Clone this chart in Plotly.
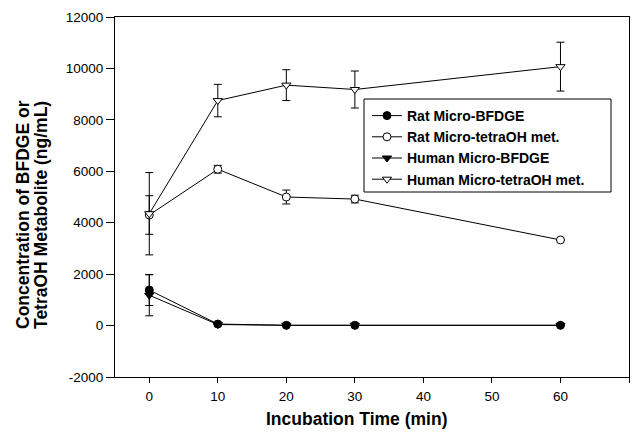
import plotly.graph_objects as go

time = [0, 10, 20, 30, 60]

rat_bfdge = [1380, 60, 10, 10, 10]
rat_bfdge_err = [600, 0, 0, 0, 0]
rat_tetra = [4300, 6080, 5000, 4920, 3330]
rat_tetra_err = [750, 150, 270, 150, 0]
human_bfdge = [1180, 40, 10, 10, 10]
human_bfdge_err = [800, 0, 0, 0, 0]
human_tetra = [4350, 8750, 9350, 9180, 10070]
human_tetra_err = [1600, 630, 600, 720, 950]

names = ["Rat Micro-BFDGE", "Rat Micro-tetraOH met.", "Human Micro-BFDGE", "Human Micro-tetraOH met."]
series = [rat_bfdge, rat_tetra, human_bfdge, human_tetra]
errs = [rat_bfdge_err, rat_tetra_err, human_bfdge_err, human_tetra_err]
symbols = ["circle", "circle", "triangle-down", "triangle-down"]
fills = ["black", "white", "black", "white"]

x_ticks = [0, 10, 20, 30, 40, 50, 60, 70]
y_ticks = [-2000, 0, 2000, 4000, 6000, 8000, 10000, 12000]
y_ticktext = ["-2000", "0", "2000", "4000", "6000", "8000", "10000", "12000"]

FONT = "Liberation Sans, Arial, sans-serif"

fig = go.Figure()
for n, s, e, sym, fc in zip(names, series, errs, symbols, fills):
    fig.add_trace(go.Scatter(
        x=time, y=s, name=n, mode="lines+markers",
        line=dict(color="black", width=1),
        marker=dict(symbol=sym, size=8, color=fc, line=dict(color="black", width=1)),
        error_y=dict(type="data", array=e, color="black", thickness=1, width=4, visible=True),
    ))

L, R, T, B = 115, 7, 17, 60
W, H = 636, 437
pw, ph = W - L - R, H - T - B

def px_x(p):
    return (p - L) / pw

def px_y(p):
    return (H - B - p) / ph

fig.update_layout(
    width=W, height=H,
    margin=dict(l=L, r=R, t=T, b=B),
    paper_bgcolor="white", plot_bgcolor="white",
    font=dict(family=FONT, color="black", size=13.5),
    showlegend=True,
    legend=dict(x=px_x(367), y=px_y(100), xanchor="left", yanchor="top",
                borderwidth=0, bgcolor="rgba(0,0,0,0)",
                font=dict(size=14, family=FONT, weight="bold"),
                tracegroupgap=0, itemwidth=30),
    shapes=[dict(type="rect", xref="paper", yref="paper",
                 x0=px_x(364), x1=px_x(611), y0=px_y(192), y1=px_y(99),
                 line=dict(color="black", width=1), fillcolor="rgba(0,0,0,0)", layer="above")],
    annotations=[
        dict(text="<b>Concentration of BFDGE or</b>", xref="paper", yref="paper",
             x=px_x(23), y=px_y(215), textangle=-90, showarrow=False,
             xanchor="center", yanchor="middle", font=dict(size=17.5, family=FONT)),
        dict(text="<b>TetraOH Metabolite (ng/mL)</b>", xref="paper", yref="paper",
             x=px_x(41), y=px_y(215), textangle=-90, showarrow=False,
             xanchor="center", yanchor="middle", font=dict(size=17.5, family=FONT)),
        dict(text="<b>Incubation Time (min)</b>", xref="paper", yref="paper",
             x=px_x(357), y=px_y(419), showarrow=False,
             xanchor="center", yanchor="middle", font=dict(size=17.5, family=FONT)),
    ],
)
fig.update_xaxes(range=[-5, 70], tickvals=x_ticks,
                 showline=True, mirror=True, linecolor="black", linewidth=1,
                 showgrid=False, zeroline=False, ticklabelstandoff=2,
                 ticks="outside", ticklen=5, tickcolor="black")
fig.update_yaxes(range=[-2000, 12000], tickvals=y_ticks, ticktext=y_ticktext,
                 showline=True, mirror=True, linecolor="black", linewidth=1,
                 showgrid=False, zeroline=False,
                 ticks="outside", ticklen=8, tickcolor="black")

fig.write_html("out.html")
